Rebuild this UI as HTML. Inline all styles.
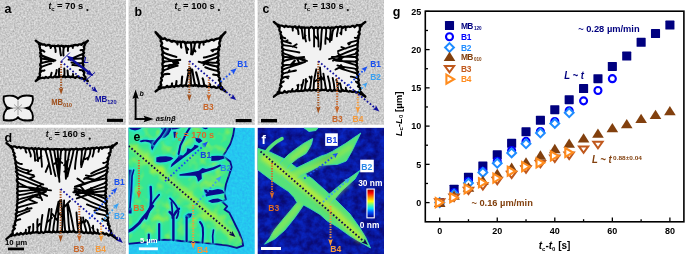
<!DOCTYPE html><html><head><meta charset="utf-8"><style>html,body{margin:0;padding:0;background:#fff;width:685px;height:254px;overflow:hidden}svg{display:block;will-change:transform}</style></head><body><svg width="685" height="254" viewBox="0 0 685 254" font-family='"Liberation Sans", sans-serif'>
<rect width="685" height="254" fill="#fff"/>
<defs><clipPath id="ca"><rect x="0" y="0" width="126" height="124.8"/></clipPath><clipPath id="cb"><rect x="128.6" y="0" width="126.2" height="124.8"/></clipPath><clipPath id="cc"><rect x="257.6" y="0" width="126.4" height="124.8"/></clipPath><clipPath id="cd"><rect x="0" y="127.8" width="126" height="126.2"/></clipPath><clipPath id="ce"><rect x="128.6" y="127.8" width="126.2" height="126.2"/></clipPath><clipPath id="cf"><rect x="257.6" y="127.8" width="126.4" height="126.2"/></clipPath><filter id="gn" x="0" y="0" width="100%" height="100%" color-interpolation-filters="sRGB"><feTurbulence type="fractalNoise" baseFrequency="0.55" numOctaves="2" seed="9"/><feColorMatrix type="matrix" values="0.32 0 0 0 0.635  0.32 0 0 0 0.635  0.32 0 0 0 0.635  0 0 0 0 1"/></filter><filter id="nz" x="0" y="0" width="100%" height="100%" color-interpolation-filters="sRGB"><feTurbulence type="fractalNoise" baseFrequency="0.7" numOctaves="2" seed="4"/><feColorMatrix type="matrix" values="1.6 0 0 0 -0.3  1.6 0 0 0 -0.3  1.6 0 0 0 -0.3  0 0 0 0 1"/></filter></defs>
<g clip-path="url(#ca)"><rect x="0" y="0" width="126" height="124.8" filter="url(#gn)"/>
<path d="M35.7 40.6 L38.5 43.0 L39.8 43.2 L41.0 43.7 L42.2 44.7 L43.4 44.3 L44.6 44.5 L45.9 45.8 L47.1 45.3 L48.3 44.9 L49.5 45.2 L50.8 46.7 L52.0 45.8 L53.2 45.9 L54.4 45.9 L55.7 46.1 L56.9 46.2 L58.1 45.4 L59.3 46.2 L60.6 46.0 L61.8 45.7 L63.0 46.5 L64.2 47.2 L65.5 45.9 L66.7 46.2 L67.9 46.6 L69.2 46.4 L70.4 46.0 L71.6 45.6 L72.8 46.4 L74.0 45.1 L75.3 45.0 L76.5 45.2 L77.7 45.5 L78.9 44.4 L80.2 44.3 L81.4 44.9 L82.6 43.6 L83.8 42.7 L85.1 42.6 L87.9 40.6 L85.7 43.0 L85.0 44.3 L84.6 45.5 L83.7 46.7 L84.3 47.9 L84.2 49.2 L83.2 50.4 L83.3 51.6 L84.2 52.8 L82.6 54.1 L82.9 55.3 L83.8 56.5 L82.9 57.7 L82.4 59.0 L82.9 60.2 L82.9 61.4 L82.7 62.6 L82.8 63.9 L83.6 65.1 L83.0 66.3 L82.9 67.5 L84.2 68.8 L83.7 70.0 L83.1 71.2 L84.3 72.4 L84.0 73.7 L83.7 74.9 L84.6 76.1 L85.5 77.3 L85.1 78.6 L87.9 81.0 L85.1 79.4 L83.8 79.3 L82.6 78.2 L81.4 77.8 L80.2 78.1 L79.0 77.5 L77.7 76.5 L76.5 76.7 L75.3 77.9 L74.0 77.3 L72.8 76.8 L71.6 76.6 L70.4 77.3 L69.2 76.5 L67.9 76.6 L66.7 76.8 L65.5 77.3 L64.2 75.6 L63.0 76.6 L61.8 77.2 L60.6 76.9 L59.3 76.3 L58.1 77.0 L56.9 77.2 L55.7 76.8 L54.4 76.4 L53.2 77.3 L52.0 77.4 L50.8 76.7 L49.5 77.0 L48.3 77.8 L47.1 77.6 L45.9 77.0 L44.6 78.0 L43.4 77.9 L42.2 77.7 L41.0 78.2 L39.8 78.4 L38.5 79.1 L35.7 81.0 L38.1 78.6 L38.2 77.3 L39.8 76.1 L40.1 74.9 L39.6 73.7 L40.2 72.4 L41.2 71.2 L40.3 70.0 L40.1 68.8 L41.1 67.5 L41.0 66.3 L40.1 65.1 L40.4 63.9 L41.5 62.6 L41.1 61.4 L41.1 60.2 L41.0 59.0 L41.3 57.7 L40.2 56.5 L40.8 55.3 L41.2 54.1 L39.9 52.8 L40.7 51.6 L41.2 50.4 L40.1 49.2 L40.0 47.9 L39.5 46.7 L39.9 45.5 L39.0 44.3 L38.8 43.0Z" fill="#f2f2f2" stroke="#000" stroke-width="2.3" stroke-linejoin="round"/><path d="M50.5 45.5C51.5 46.3 51.3 47.2 50.6 48.0M54.5 45.8C54.8 47.9 56.2 49.9 55.6 52.1M59.4 46.0C60.5 49.1 60.0 52.2 61.0 55.4M63.5 46.0C64.0 49.2 62.7 52.3 63.5 55.5M68.1 45.9C68.7 47.5 67.4 49.2 68.0 50.9M73.0 45.5C73.4 46.3 72.1 47.1 72.8 47.9M83.8 49.9C82.7 50.2 81.6 50.0 80.5 50.3M83.4 54.0C78.5 55.3 73.6 58.1 68.6 59.6M83.2 58.4C78.8 58.3 74.3 58.5 69.8 59.5M83.2 63.2C79.4 63.1 75.5 63.5 71.5 62.6M83.4 67.3C79.8 66.0 76.1 64.9 72.4 65.1M83.8 71.1C82.4 70.1 81.1 70.1 79.7 70.1M73.0 77.1C72.5 76.1 73.9 75.1 72.9 74.0M68.3 76.8C67.7 74.7 67.8 72.6 67.5 70.4M63.9 76.7C65.0 74.0 64.5 71.3 64.3 68.6M59.3 76.7C58.5 74.1 59.0 71.5 59.2 68.8M55.2 76.8C55.4 74.5 56.8 72.3 56.7 69.9M50.8 77.1C50.3 75.7 51.5 74.2 51.6 72.8M40.1 71.2C41.6 70.5 43.0 71.2 44.5 70.4M40.6 67.2C44.1 66.0 47.6 64.3 51.3 63.5M40.8 63.3C44.9 62.0 49.1 61.4 53.4 60.5M40.8 58.5C45.0 58.9 49.3 59.5 53.6 61.3M40.6 55.0C45.5 57.5 50.4 58.7 55.4 60.5M40.1 50.1C41.5 50.5 43.0 50.4 44.5 51.7" fill="none" stroke="#000" stroke-width="2.0" stroke-linecap="round"/>
<path d="M3.8 96.5 Q9 95 13.5 96 Q16.5 96.8 18 98.8 Q19.5 96.8 22.5 96 Q27 95 32.6 96.2 Q33.5 100 32 103.5 Q30.2 106 29.6 108 Q30.2 110 32 112.5 Q33.5 116 32.6 120 Q27 121 22.5 120 Q19.5 119.2 18 117.3 Q16.5 119.2 13.5 120 Q9 121 3.8 120 Q3 116 4.5 112.5 Q6.3 110 6.8 108 Q6.3 106 4.5 103.5 Q3 100 3.8 96.5Z" fill="#f0f0f0" stroke="#000" stroke-width="1.9"/>
<path d="M6.8 106.8 L11 108.2 L6.8 109.4Z M29.6 106.8 L25.5 108 L29.6 109.4Z" fill="#000" stroke="#000" stroke-width="1.4"/><path d="M14 104.5 L22 111.5 M22 104.5 L14 111.5 M18 101 L18 115 M10 108 L26 108" stroke="#666" stroke-width="1" opacity="0.6"/>
</g>
<g clip-path="url(#cb)"><rect x="128.6" y="0" width="126.2" height="124.8" filter="url(#gn)"/>
<path d="M155.6 32.2 L158.7 36.3 L159.9 36.3 L161.1 37.5 L162.3 39.0 L163.5 38.8 L164.7 38.3 L165.9 39.2 L167.1 40.5 L168.3 39.9 L169.5 40.2 L170.7 41.2 L171.9 41.7 L173.1 40.8 L174.3 41.3 L175.5 41.4 L176.7 42.5 L177.9 41.8 L179.1 42.0 L180.3 41.8 L181.5 42.4 L182.7 41.6 L183.9 41.9 L185.1 43.2 L186.3 43.1 L187.5 42.2 L188.7 42.6 L189.9 42.5 L191.1 43.0 L192.3 42.5 L193.5 41.9 L194.7 43.3 L195.9 42.3 L197.1 42.0 L198.3 41.9 L199.5 42.8 L200.7 42.3 L201.9 41.9 L203.1 42.0 L204.3 41.9 L205.5 41.9 L206.7 40.6 L207.9 41.2 L209.1 41.1 L210.3 40.3 L211.5 39.7 L212.7 39.7 L213.9 40.4 L215.1 39.3 L216.3 39.0 L217.5 38.6 L218.7 38.6 L219.9 37.9 L221.1 36.1 L222.3 35.6 L225.4 32.2 L222.5 35.0 L221.8 36.2 L221.4 37.5 L220.3 38.7 L220.4 39.9 L220.1 41.1 L219.4 42.3 L219.3 43.5 L219.6 44.8 L219.9 46.0 L218.6 47.2 L218.1 48.4 L219.2 49.6 L218.5 50.8 L218.2 52.1 L218.1 53.3 L218.4 54.5 L218.7 55.7 L217.3 56.9 L217.9 58.1 L218.3 59.4 L218.7 60.6 L217.2 61.8 L218.4 63.0 L218.8 64.2 L218.4 65.5 L217.2 66.7 L218.1 67.9 L218.6 69.1 L217.9 70.3 L218.1 71.5 L219.2 72.8 L218.7 74.0 L218.1 75.2 L218.4 76.4 L219.3 77.6 L220.1 78.8 L218.9 80.1 L220.0 81.3 L220.5 82.5 L220.2 83.7 L220.3 84.9 L220.6 86.1 L222.1 87.4 L222.4 88.6 L225.4 91.4 L222.3 89.0 L221.1 89.2 L219.9 87.6 L218.7 86.9 L217.5 87.6 L216.3 87.9 L215.1 87.4 L213.9 86.5 L212.7 87.1 L211.5 87.3 L210.3 86.6 L209.1 86.1 L207.9 86.7 L206.7 86.7 L205.5 85.6 L204.3 85.8 L203.1 86.0 L201.9 86.3 L200.7 85.9 L199.5 85.7 L198.3 86.4 L197.1 85.5 L195.9 85.1 L194.7 85.0 L193.5 85.8 L192.3 85.5 L191.1 85.2 L189.9 84.8 L188.7 85.7 L187.5 86.3 L186.3 85.4 L185.1 85.3 L183.9 85.6 L182.7 86.4 L181.5 85.4 L180.3 85.3 L179.1 86.1 L177.9 86.3 L176.7 85.6 L175.5 85.7 L174.3 87.0 L173.1 86.3 L171.9 85.5 L170.7 86.7 L169.5 86.7 L168.3 87.1 L167.1 85.9 L165.9 87.1 L164.7 87.5 L163.5 87.5 L162.3 87.4 L161.1 88.0 L159.9 88.7 L158.7 89.0 L155.6 91.4 L159.2 88.6 L158.7 87.4 L160.1 86.1 L161.3 84.9 L160.8 83.7 L160.6 82.5 L161.2 81.3 L161.9 80.1 L161.2 78.8 L161.3 77.6 L162.8 76.4 L162.6 75.2 L161.9 74.0 L161.7 72.8 L163.1 71.5 L163.3 70.3 L162.5 69.1 L163.0 67.9 L163.3 66.7 L162.7 65.5 L162.3 64.2 L162.7 63.0 L164.1 61.8 L163.0 60.6 L162.7 59.4 L162.9 58.1 L163.3 56.9 L162.7 55.7 L161.9 54.5 L163.1 53.3 L163.3 52.1 L162.6 50.8 L162.0 49.6 L162.2 48.4 L162.7 47.2 L161.0 46.0 L161.4 44.8 L162.1 43.5 L161.7 42.3 L160.6 41.1 L160.7 39.9 L161.1 38.7 L159.8 37.5 L158.7 36.2 L158.5 35.0Z" fill="#f2f2f2" stroke="#000" stroke-width="2.4" stroke-linejoin="round"/><path d="M177.1 41.6C177.3 42.6 177.8 43.5 177.5 44.5M180.7 42.0C181.2 43.9 180.5 45.7 181.4 47.6M185.3 42.3C185.6 45.8 186.6 49.4 187.0 53.0M186.0 46.8C186.7 47.7 187.5 48.6 188.2 49.5M190.9 42.5C191.3 46.3 191.9 50.2 191.1 54.2M195.1 42.4C194.4 46.3 194.1 50.3 192.4 54.4M193.6 49.0C194.2 49.8 194.8 50.6 195.4 51.4M200.0 42.0C200.2 43.9 198.6 45.8 199.2 47.7M204.3 41.6C203.2 42.6 203.4 43.6 203.6 44.6M218.9 48.3C216.5 49.7 214.0 49.2 211.4 50.4M213.9 49.7C213.5 50.2 213.1 50.8 212.7 51.3M218.5 53.0C213.7 54.6 208.8 56.9 203.9 57.5M218.3 57.2C212.8 58.6 207.2 60.8 201.6 62.6M207.4 60.7C206.2 62.1 204.9 63.5 203.6 64.9M218.2 62.5C213.0 63.5 207.7 61.7 202.3 62.5M218.3 66.7C211.8 66.0 205.3 63.4 198.7 61.7M218.6 71.4C214.2 70.1 209.8 69.4 205.3 67.3M219.0 75.4C217.1 74.6 215.2 75.3 213.2 74.6M210.0 86.5C209.5 85.7 210.9 84.9 209.8 84.1M204.6 86.1C203.6 83.6 203.8 81.0 202.6 78.4M199.3 85.8C198.9 81.3 197.4 76.9 196.1 72.3M195.4 85.7C193.7 80.4 193.2 75.1 192.2 69.6M190.8 85.6C191.1 79.9 190.3 74.2 190.3 68.3M190.4 72.7C189.6 71.9 188.7 71.0 187.8 70.2M185.9 85.7C186.6 80.2 188.6 74.7 189.0 69.0M188.1 73.9C189.5 72.7 190.8 71.6 192.2 70.4M181.3 85.8C182.0 82.8 181.6 79.7 182.2 76.6M176.1 86.1C175.6 84.4 176.7 82.7 176.5 81.0M171.9 86.5C172.4 85.4 171.4 84.4 172.1 83.4M162.1 75.1C164.5 74.2 166.9 73.4 169.4 74.0M162.5 70.8C167.5 69.4 172.4 66.5 177.6 65.8M167.9 69.0C168.7 67.6 169.4 66.3 170.1 64.9M162.7 66.5C167.8 66.0 173.0 64.9 178.3 63.2M169.1 65.1C170.5 65.7 171.8 66.3 173.2 66.9M162.8 61.9C168.5 61.0 174.3 59.9 180.2 59.9M162.7 56.8C167.8 58.8 172.8 61.4 178.0 62.3M171.7 60.0C172.5 61.0 173.2 62.0 174.0 63.0M162.4 52.1C167.0 54.6 171.7 55.5 176.4 56.9M162.0 47.8C164.0 48.0 165.9 48.6 167.9 49.3" fill="none" stroke="#000" stroke-width="2.1" stroke-linecap="round"/>
</g>
<g clip-path="url(#cc)"><rect x="257.6" y="0" width="126.4" height="124.8" filter="url(#gn)"/>
<path d="M273.8 21.9 L277.3 24.9 L278.5 25.0 L279.7 25.8 L280.9 25.6 L282.1 25.7 L283.4 26.2 L284.6 27.0 L285.8 25.7 L287.0 26.4 L288.2 26.8 L289.4 26.5 L290.6 26.6 L291.8 26.8 L293.0 27.5 L294.2 26.7 L295.4 26.3 L296.6 28.3 L297.9 27.7 L299.1 26.4 L300.3 27.7 L301.5 28.1 L302.7 27.3 L303.9 27.5 L305.1 28.0 L306.3 27.7 L307.5 27.6 L308.7 28.0 L309.9 27.9 L311.1 26.9 L312.4 27.4 L313.6 28.6 L314.8 27.9 L316.0 27.2 L317.2 27.9 L318.4 28.4 L319.6 27.2 L320.8 27.5 L322.0 28.2 L323.2 27.8 L324.4 27.3 L325.6 28.3 L326.9 28.0 L328.1 27.2 L329.3 28.2 L330.5 28.5 L331.7 27.4 L332.9 27.6 L334.1 28.5 L335.3 27.2 L336.5 26.8 L337.7 27.3 L338.9 27.1 L340.1 26.4 L341.4 26.9 L342.6 28.0 L343.8 27.1 L345.0 26.5 L346.2 27.4 L347.4 26.7 L348.6 26.7 L349.8 27.0 L351.0 26.6 L352.2 25.9 L353.4 25.8 L354.6 27.2 L355.9 26.0 L357.1 24.9 L358.3 25.6 L359.5 25.2 L360.7 24.9 L361.9 24.5 L365.4 21.9 L361.8 25.0 L361.2 26.2 L359.8 27.4 L359.9 28.6 L359.9 29.8 L359.5 31.0 L358.5 32.2 L359.7 33.4 L359.4 34.6 L358.2 35.8 L358.6 37.0 L358.5 38.2 L358.0 39.4 L357.4 40.6 L358.1 41.9 L357.8 43.1 L357.0 44.3 L357.7 45.5 L357.6 46.7 L357.5 47.9 L356.1 49.1 L357.9 50.3 L357.6 51.5 L356.3 52.7 L357.4 53.9 L357.7 55.1 L356.5 56.3 L356.1 57.5 L357.2 58.7 L357.7 59.9 L356.0 61.1 L356.5 62.3 L357.2 63.5 L356.5 64.7 L356.4 65.9 L357.5 67.1 L357.4 68.3 L356.2 69.5 L356.8 70.7 L358.1 71.9 L357.3 73.1 L357.1 74.3 L358.0 75.5 L358.2 76.7 L357.6 78.0 L358.5 79.2 L358.9 80.4 L358.1 81.6 L357.9 82.8 L358.8 84.0 L359.6 85.2 L358.0 86.4 L359.7 87.6 L360.6 88.8 L359.7 90.0 L360.1 91.2 L361.3 92.4 L362.2 93.6 L365.4 96.7 L361.9 94.3 L360.7 94.1 L359.5 92.5 L358.3 92.2 L357.1 92.5 L355.9 92.3 L354.6 91.2 L353.4 91.8 L352.2 91.9 L351.0 91.4 L349.8 91.0 L348.6 91.7 L347.4 91.2 L346.2 90.3 L345.0 90.9 L343.8 90.8 L342.6 89.8 L341.4 91.3 L340.1 91.5 L338.9 90.6 L337.7 90.6 L336.5 90.7 L335.3 90.3 L334.1 89.9 L332.9 90.6 L331.7 91.1 L330.5 89.7 L329.3 89.9 L328.1 90.8 L326.9 90.6 L325.6 89.1 L324.4 90.1 L323.2 89.9 L322.0 89.6 L320.8 90.4 L319.6 90.5 L318.4 89.6 L317.2 89.7 L316.0 90.6 L314.8 89.9 L313.6 89.8 L312.4 90.3 L311.1 90.6 L309.9 89.8 L308.7 89.5 L307.5 90.6 L306.3 90.3 L305.1 89.2 L303.9 90.7 L302.7 91.0 L301.5 90.6 L300.3 90.9 L299.1 91.1 L297.9 91.0 L296.6 90.0 L295.4 91.1 L294.2 91.4 L293.0 91.1 L291.8 90.7 L290.6 91.8 L289.4 91.3 L288.2 91.4 L287.0 92.6 L285.8 92.2 L284.6 91.0 L283.4 92.5 L282.1 93.0 L280.9 92.7 L279.7 92.9 L278.5 93.7 L277.3 94.0 L273.8 96.7 L277.6 93.6 L277.6 92.4 L279.2 91.2 L279.4 90.0 L279.6 88.8 L280.0 87.6 L281.6 86.4 L280.2 85.2 L280.5 84.0 L281.2 82.8 L281.3 81.6 L281.1 80.4 L281.5 79.2 L282.8 78.0 L281.9 76.7 L281.8 75.5 L282.6 74.3 L283.0 73.1 L281.9 71.9 L282.2 70.7 L282.8 69.5 L282.0 68.3 L282.0 67.1 L283.6 65.9 L283.0 64.7 L282.3 63.5 L282.6 62.3 L283.7 61.1 L282.8 59.9 L283.2 58.7 L283.2 57.5 L283.5 56.3 L282.4 55.1 L282.5 53.9 L283.3 52.7 L282.2 51.5 L282.7 50.3 L283.4 49.1 L282.1 47.9 L282.1 46.7 L282.7 45.5 L282.5 44.3 L282.1 43.1 L281.7 41.9 L282.2 40.6 L282.1 39.4 L281.0 38.2 L281.1 37.0 L281.6 35.8 L280.6 34.6 L280.4 33.4 L281.0 32.2 L279.8 31.0 L279.3 29.8 L279.5 28.6 L279.7 27.4 L277.9 26.2 L277.7 25.0Z" fill="#f2f2f2" stroke="#000" stroke-width="2.3" stroke-linejoin="round"/><path d="M292.5 26.8C292.5 28.0 292.7 29.3 292.8 30.6M297.2 27.1C297.9 29.4 298.5 31.7 298.6 34.1M301.4 27.3C302.2 31.0 302.5 34.8 303.1 38.6M304.8 27.5C304.8 32.1 304.3 36.7 306.0 41.4M305.5 35.7C305.1 36.5 304.6 37.4 304.2 38.3M308.8 27.6C309.3 31.9 308.5 36.2 309.6 40.5M313.9 27.7C314.1 34.0 314.2 40.2 314.1 46.6M314.0 35.5C315.2 36.7 316.4 37.9 317.7 39.1M317.8 27.8C317.1 34.0 319.0 40.2 318.5 46.5M322.2 27.8C320.7 35.0 321.8 42.2 320.2 49.6M326.1 27.7C326.9 33.1 324.9 38.4 325.4 43.9M325.7 37.0C326.7 37.8 327.6 38.7 328.6 39.6M330.5 27.6C331.2 32.3 329.5 37.1 329.9 41.9M334.0 27.5C332.0 31.7 332.2 35.8 331.5 40.1M337.9 27.3C338.8 30.3 336.3 33.3 336.9 36.3M341.8 27.1C341.6 29.5 341.4 31.9 341.2 34.3M341.4 31.7C341.1 32.2 340.7 32.7 340.3 33.3M346.3 26.8C344.8 27.9 345.6 29.0 345.8 30.2M358.6 36.7C357.3 37.7 356.0 38.4 354.8 37.7M358.1 40.4C354.8 41.3 351.5 41.4 348.1 43.4M350.7 42.6C350.1 43.2 349.5 43.9 348.9 44.6M357.7 44.3C351.2 46.4 344.7 48.4 338.0 51.2M345.9 48.5C344.4 48.0 342.9 47.6 341.4 47.1M357.3 48.5C348.0 51.2 338.6 56.2 329.0 59.1M357.1 53.3C349.2 55.6 341.2 57.4 333.0 60.7M357.0 57.0C348.7 57.0 340.4 56.1 331.9 57.0M343.4 57.0C341.7 58.2 340.0 59.4 338.3 60.6M357.0 61.8C350.0 60.9 342.9 61.5 335.7 60.5M357.1 65.6C348.8 62.5 340.4 60.8 331.9 58.1M342.0 61.1C340.7 58.4 339.5 55.7 338.1 52.9M357.3 69.4C350.7 67.2 344.1 68.0 337.4 65.4M341.8 66.3C339.7 67.4 337.6 68.4 335.5 69.5M357.6 73.5C351.6 71.9 345.7 70.6 339.6 67.9M344.1 69.3C343.1 67.9 342.1 66.5 341.0 65.1M358.1 78.3C355.7 78.7 353.3 76.3 350.8 76.6M358.7 82.6C357.7 83.2 356.8 82.7 355.9 81.6M346.6 91.3C346.6 90.1 345.6 89.0 345.8 87.8M341.8 90.9C340.9 88.4 341.2 85.9 340.0 83.3M338.5 90.7C336.9 87.1 338.3 83.6 336.3 79.9M337.4 85.3C337.8 84.7 338.3 84.0 338.7 83.3M334.6 90.5C334.3 86.3 333.8 82.1 332.7 77.9M330.5 90.3C330.2 85.7 329.4 81.1 327.9 76.3M326.3 90.2C324.9 84.7 324.4 79.2 323.4 73.6M324.6 80.7C323.4 79.4 322.2 78.2 321.0 77.0M321.3 90.1C322.1 82.6 320.3 75.2 320.0 67.4M317.8 90.1C319.1 84.3 317.2 78.4 318.1 72.4M318.0 81.5C319.1 80.0 320.3 78.5 321.4 76.9M313.5 90.2C313.5 83.3 314.4 76.4 316.3 69.3M314.7 81.6C316.6 80.2 318.5 78.9 320.4 77.5M309.2 90.3C311.2 85.8 310.7 81.2 311.7 76.5M311.2 79.3C310.7 78.5 310.1 77.6 309.6 76.7M305.2 90.4C304.4 86.6 306.7 82.8 305.9 78.9M305.6 83.3C306.1 82.6 306.6 81.8 307.2 81.1M301.2 90.6C301.7 87.1 303.0 83.6 303.6 79.9M302.0 86.9C301.7 86.2 301.5 85.5 301.3 84.8M297.2 90.9C298.6 88.9 297.4 86.9 298.5 84.8M298.2 86.5C297.9 86.1 297.6 85.6 297.3 85.2M292.3 91.3C292.7 90.5 291.6 89.7 292.5 88.9M281.2 82.0C282.0 82.8 282.9 82.0 283.8 81.4M281.8 78.0C284.0 77.2 286.3 76.7 288.7 76.5M286.0 77.1C286.7 77.5 287.3 77.8 288.0 78.2M282.2 74.0C286.8 71.9 291.3 71.6 296.0 70.5M287.8 72.6C288.3 71.8 288.9 71.1 289.5 70.3M282.6 69.8C290.0 66.3 297.5 65.2 305.2 61.8M290.5 67.0C292.0 64.9 293.4 62.8 294.9 60.6M282.8 65.3C289.2 64.7 295.5 64.6 302.1 62.3M291.3 64.0C292.4 62.9 293.4 61.8 294.5 60.7M282.9 61.2C289.9 58.7 296.9 57.8 304.2 57.0M298.1 58.2C300.4 59.2 302.6 60.2 304.9 61.2M282.9 56.7C290.1 57.4 297.3 58.3 304.7 59.1M282.8 53.4C290.8 55.6 298.8 58.9 307.0 60.9M296.2 57.5C297.1 59.0 298.0 60.5 298.9 62.0M282.6 49.1C288.1 50.6 293.7 51.2 299.4 52.5M282.2 44.7C286.9 46.4 291.6 45.3 296.4 47.5M292.7 46.8C294.0 45.9 295.4 45.1 296.7 44.2M281.8 40.7C284.8 40.9 287.8 42.2 290.9 43.4M285.1 41.7C285.9 41.2 286.8 40.7 287.6 40.2M281.2 36.6C282.5 36.7 283.9 38.4 285.3 38.3" fill="none" stroke="#000" stroke-width="1.9" stroke-linecap="round"/>
</g>
<g clip-path="url(#cd)"><rect x="0" y="127.8" width="126" height="126.2" filter="url(#gn)"/>
<path d="M6.4 143.0 L9.9 145.8 L11.1 146.1 L12.3 147.2 L13.5 146.4 L14.7 146.4 L15.9 146.9 L17.1 147.8 L18.3 147.2 L19.5 147.0 L20.7 148.3 L22.0 147.4 L23.2 147.3 L24.4 147.9 L25.6 148.5 L26.8 148.1 L28.0 148.5 L29.2 148.9 L30.4 148.5 L31.6 148.0 L32.8 149.0 L34.0 149.2 L35.2 148.0 L36.4 149.3 L37.6 149.0 L38.8 148.2 L40.0 149.0 L41.2 149.5 L42.4 148.7 L43.6 149.1 L44.8 149.3 L46.0 149.8 L47.2 148.4 L48.5 149.0 L49.7 149.5 L50.9 149.4 L52.1 149.2 L53.3 149.8 L54.5 149.2 L55.7 149.2 L56.9 149.1 L58.1 149.4 L59.3 149.2 L60.5 149.6 L61.7 150.1 L62.9 149.3 L64.1 148.8 L65.3 149.8 L66.5 149.6 L67.7 149.4 L68.9 149.7 L70.1 150.0 L71.3 148.8 L72.5 149.1 L73.7 149.7 L75.0 149.1 L76.2 148.4 L77.4 149.2 L78.6 149.6 L79.8 149.0 L81.0 149.4 L82.2 150.2 L83.4 148.4 L84.6 148.2 L85.8 149.1 L87.0 149.3 L88.2 148.1 L89.4 149.1 L90.6 148.7 L91.8 148.0 L93.0 148.0 L94.2 149.0 L95.4 148.2 L96.6 147.4 L97.8 148.0 L99.0 148.5 L100.2 147.5 L101.5 147.5 L102.7 148.2 L103.9 147.3 L105.1 147.1 L106.3 147.4 L107.5 147.3 L108.7 146.8 L109.9 146.7 L111.1 147.1 L112.3 145.4 L113.5 145.8 L117.0 143.0 L112.9 146.2 L112.6 147.4 L110.5 148.6 L110.7 149.8 L110.6 151.1 L110.5 152.3 L108.8 153.5 L110.0 154.7 L109.4 155.9 L108.5 157.1 L107.9 158.3 L108.5 159.5 L107.9 160.7 L107.1 161.9 L107.7 163.2 L107.8 164.4 L106.4 165.6 L107.2 166.8 L107.9 168.0 L107.2 169.2 L106.3 170.4 L107.5 171.6 L107.0 172.8 L105.9 174.1 L106.3 175.3 L106.2 176.5 L106.4 177.7 L106.0 178.9 L106.7 180.1 L106.4 181.3 L105.4 182.5 L106.4 183.7 L106.7 184.9 L105.8 186.2 L104.9 187.4 L106.6 188.6 L105.9 189.8 L104.8 191.0 L105.8 192.2 L105.9 193.4 L104.9 194.6 L105.6 195.8 L106.3 197.1 L105.5 198.3 L105.6 199.5 L106.6 200.7 L106.7 201.9 L105.7 203.1 L105.9 204.3 L106.6 205.5 L106.2 206.7 L106.2 207.9 L107.2 209.2 L107.4 210.4 L106.2 211.6 L106.8 212.8 L107.7 214.0 L106.9 215.2 L106.5 216.4 L108.3 217.6 L107.8 218.8 L107.0 220.1 L108.1 221.3 L108.3 222.5 L108.4 223.7 L108.0 224.9 L109.8 226.1 L109.2 227.3 L109.2 228.5 L109.9 229.7 L111.1 230.9 L110.9 232.2 L111.4 233.4 L112.0 234.6 L113.4 235.8 L117.0 239.0 L113.5 236.5 L112.3 235.8 L111.1 235.1 L109.9 234.4 L108.7 235.6 L107.5 234.4 L106.3 233.4 L105.1 234.4 L103.9 233.7 L102.7 232.6 L101.5 233.7 L100.2 234.0 L99.0 233.6 L97.8 232.9 L96.6 233.4 L95.4 232.9 L94.2 231.7 L93.0 233.5 L91.8 233.3 L90.6 231.9 L89.4 232.7 L88.2 233.1 L87.0 232.5 L85.8 231.8 L84.6 233.0 L83.4 232.9 L82.2 231.6 L81.0 231.9 L79.8 232.4 L78.6 231.8 L77.4 232.2 L76.2 232.4 L75.0 231.9 L73.7 230.7 L72.5 231.7 L71.3 231.9 L70.1 231.4 L68.9 231.5 L67.7 232.4 L66.5 231.7 L65.3 231.1 L64.1 232.1 L62.9 232.2 L61.7 230.4 L60.5 232.0 L59.3 232.3 L58.1 231.8 L56.9 231.4 L55.7 232.3 L54.5 232.0 L53.3 231.0 L52.1 232.4 L50.9 232.3 L49.7 231.6 L48.5 231.9 L47.2 232.0 L46.0 231.7 L44.8 231.9 L43.6 232.9 L42.4 232.5 L41.2 231.4 L40.0 232.8 L38.8 233.0 L37.6 232.0 L36.4 232.1 L35.2 232.4 L34.0 232.6 L32.8 231.7 L31.6 232.9 L30.4 233.5 L29.2 231.9 L28.0 233.3 L26.8 233.8 L25.6 232.7 L24.4 233.2 L23.2 234.3 L22.0 233.9 L20.7 232.9 L19.5 234.7 L18.3 234.6 L17.1 233.4 L15.9 234.8 L14.7 235.4 L13.5 235.1 L12.3 235.1 L11.1 236.2 L9.9 236.0 L6.4 239.0 L10.1 235.8 L11.1 234.6 L12.8 233.4 L12.6 232.2 L12.6 230.9 L13.6 229.7 L14.9 228.5 L13.5 227.3 L13.5 226.1 L15.5 224.9 L14.6 223.7 L15.1 222.5 L15.4 221.3 L16.2 220.1 L15.8 218.8 L15.9 217.6 L16.8 216.4 L16.1 215.2 L15.6 214.0 L17.0 212.8 L17.6 211.6 L16.2 210.4 L16.9 209.2 L17.2 207.9 L17.4 206.7 L16.7 205.5 L17.0 204.3 L18.1 203.1 L17.3 201.9 L17.4 200.7 L17.9 199.5 L17.7 198.3 L17.3 197.1 L17.7 195.8 L18.2 194.6 L17.0 193.4 L17.3 192.2 L18.3 191.0 L17.4 189.8 L17.1 188.6 L18.0 187.4 L17.6 186.2 L17.6 184.9 L17.9 183.7 L18.3 182.5 L17.0 181.3 L16.7 180.1 L18.0 178.9 L17.9 177.7 L17.2 176.5 L16.9 175.3 L18.1 174.1 L17.0 172.8 L15.9 171.6 L17.4 170.4 L17.0 169.2 L15.9 168.0 L16.5 166.8 L16.3 165.6 L15.9 164.4 L15.3 163.2 L16.3 161.9 L15.4 160.7 L15.0 159.5 L14.6 158.3 L15.4 157.1 L14.3 155.9 L13.7 154.7 L14.6 153.5 L13.5 152.3 L13.1 151.1 L13.1 149.8 L12.1 148.6 L11.2 147.4 L10.1 146.2Z" fill="#f2f2f2" stroke="#000" stroke-width="2.3" stroke-linejoin="round"/><path d="M25.2 148.0C25.8 149.5 25.0 151.0 26.4 152.5M28.9 148.3C28.4 151.0 31.5 153.7 30.7 156.5M33.2 148.5C34.9 152.6 35.4 156.6 35.1 160.8M36.8 148.7C36.3 152.8 37.7 156.9 38.1 161.1M41.2 148.9C40.1 154.8 42.1 160.7 41.9 166.8M41.5 156.2C40.0 157.5 38.5 158.8 37.0 160.2M45.2 149.0C47.4 157.3 50.0 165.6 51.1 174.1M48.8 164.3C47.8 166.8 46.7 169.4 45.7 171.9M49.7 149.2C51.9 158.0 52.8 166.9 55.5 176.0M54.0 149.2C55.4 158.4 57.2 167.5 58.5 176.9M55.5 158.3C57.7 159.9 60.0 161.4 62.3 163.0M57.5 149.3C58.4 160.0 58.6 170.7 59.4 181.7M61.4 149.3C59.6 158.8 60.2 168.3 58.9 178.1M60.6 158.3C58.6 160.1 56.6 162.0 54.5 163.8M65.8 149.3C64.6 159.0 65.4 168.6 65.9 178.6M69.8 149.2C67.7 159.0 66.4 168.7 65.9 178.7M68.5 159.4C67.1 161.3 65.6 163.3 64.1 165.3M73.7 149.2C72.7 158.2 69.1 167.3 67.4 176.6M69.5 167.7C67.8 169.0 66.1 170.3 64.4 171.6M77.5 149.1C76.6 155.6 75.2 162.2 75.0 168.9M81.6 148.9C82.6 154.2 80.7 159.4 81.0 164.9M85.8 148.8C85.3 154.8 83.3 160.9 81.2 167.1M90.7 148.5C90.7 152.2 89.6 155.9 87.8 159.6M88.4 157.3C87.3 157.9 86.3 158.5 85.2 159.1M94.2 148.3C94.0 151.0 93.7 153.7 92.6 156.5M98.9 147.9C99.5 149.2 98.7 150.4 98.5 151.8M102.1 147.6C101.3 148.0 102.9 148.5 101.9 148.9M108.7 158.1C108.3 157.1 107.8 159.7 107.4 158.5M108.1 161.6C106.5 161.4 104.9 163.6 103.2 162.8M107.4 166.2C102.0 168.8 96.6 170.4 91.1 173.6M106.9 169.8C99.4 172.9 91.8 175.8 84.0 179.1M91.1 176.3C89.4 176.0 87.6 175.7 85.9 175.4M106.5 174.2C96.6 179.4 86.6 183.9 76.4 186.9M94.0 179.5C91.0 179.1 88.0 178.7 84.9 178.3M106.2 178.2C95.9 180.2 85.6 182.4 74.9 186.7M85.1 183.9C82.6 182.1 80.0 180.4 77.4 178.6M106.0 182.6C97.4 185.9 88.9 189.3 80.1 193.1M105.8 186.9C95.9 189.7 86.0 191.2 75.8 194.7M82.3 193.0C79.8 192.1 77.2 191.2 74.6 190.3M105.8 191.0C96.8 192.2 87.7 192.6 78.4 192.5M105.9 195.7C95.1 194.9 84.3 192.2 73.3 192.3M86.7 193.7C84.4 191.0 82.2 188.2 79.8 185.3M105.9 198.8C95.6 194.7 85.2 191.0 74.5 188.4M94.3 194.9C93.2 192.6 92.1 190.3 91.0 187.9M106.2 203.5C97.0 198.5 87.9 194.3 78.5 191.4M86.8 195.0C83.5 196.1 80.2 197.3 76.8 198.4M106.5 208.3C96.5 204.7 86.6 200.4 76.3 194.5M106.8 211.3C100.2 209.9 93.7 207.3 86.9 204.4M99.6 208.8C97.9 209.4 96.2 210.1 94.4 210.7M107.4 216.1C103.7 214.1 100.0 214.7 96.2 213.2M108.1 220.5C106.1 221.2 104.2 220.8 102.2 218.8M108.7 224.0C108.3 225.2 108.0 222.4 107.6 223.5M98.3 233.4C97.1 232.1 98.4 230.8 97.5 229.4M93.8 233.0C93.5 230.6 92.8 228.3 93.1 225.8M93.4 228.9C93.0 228.5 92.5 228.1 92.1 227.7M90.2 232.7C90.4 228.8 89.3 225.0 87.3 221.0M86.5 232.5C86.1 227.5 83.1 222.6 83.1 217.5M84.3 223.1C84.9 222.0 85.4 220.9 85.9 219.8M81.6 232.2C80.2 227.3 81.3 222.5 80.8 217.4M81.2 224.1C81.7 223.2 82.2 222.2 82.8 221.3M78.5 232.1C77.2 225.6 76.9 219.2 76.5 212.5M77.8 225.6C78.7 224.5 79.5 223.5 80.4 222.5M74.1 231.9C72.4 222.8 71.1 213.6 67.9 204.1M69.7 231.8C68.0 223.3 68.5 214.7 67.3 205.9M65.3 231.8C64.1 221.5 63.5 211.1 64.1 200.5M64.4 206.9C66.2 204.9 68.1 202.9 70.0 200.9M61.9 231.8C63.1 221.3 62.3 210.8 61.3 200.0M61.6 216.2C60.0 214.3 58.4 212.5 56.7 210.6M57.2 231.8C58.3 221.5 57.6 211.2 59.7 200.6M58.0 221.2C56.2 218.9 54.4 216.5 52.5 214.1M53.0 231.9C53.7 222.0 56.1 212.0 58.5 201.8M48.9 232.0C50.0 224.4 51.3 216.8 51.5 209.0M45.0 232.1C46.5 224.5 48.0 216.9 49.2 209.0M46.7 222.7C48.4 221.1 50.2 219.5 52.0 217.8M41.0 232.3C40.8 226.6 41.5 220.9 42.4 215.0M37.0 232.5C38.2 228.1 36.6 223.8 37.6 219.3M37.2 227.4C38.0 226.2 38.8 225.1 39.7 223.9M32.7 232.7C33.7 229.9 33.2 227.0 33.2 224.0M28.7 233.1C29.8 231.0 28.4 228.9 30.1 226.7M29.6 228.8C29.3 228.3 28.9 227.8 28.5 227.3M25.2 233.4C25.5 232.1 26.0 230.9 25.9 229.6M15.3 220.9C16.9 220.7 18.6 219.4 20.3 219.3M16.0 216.5C20.4 214.8 24.9 212.3 29.6 210.8M16.5 212.4C21.5 212.2 26.5 208.6 31.6 208.3M25.0 210.1C25.8 209.3 26.6 208.6 27.4 207.8M16.9 208.1C23.5 205.5 30.1 204.0 36.9 202.6M17.2 203.7C26.7 200.5 36.2 195.4 46.0 191.6M28.3 199.1C30.5 200.0 32.8 201.0 35.1 202.0M17.4 199.9C26.8 196.7 36.3 195.4 46.0 191.3M32.2 195.5C34.8 196.3 37.4 197.1 40.0 197.9M17.6 195.3C26.9 194.3 36.2 191.4 45.8 189.9M17.6 191.4C27.3 190.9 36.9 188.9 46.9 188.7M34.2 189.9C36.6 188.0 39.0 186.2 41.5 184.3M17.6 186.5C28.6 186.7 39.6 189.3 51.0 190.4M17.4 182.3C27.2 187.9 37.0 191.0 47.1 195.9M38.3 191.9C39.5 194.6 40.8 197.3 42.1 200.1M17.2 178.4C27.1 180.4 36.9 186.5 47.1 188.8M16.9 173.7C25.6 176.7 34.3 181.3 43.3 184.5M28.9 178.6C30.7 177.9 32.5 177.1 34.3 176.3M16.4 169.5C22.1 171.7 27.7 174.2 33.6 175.3M26.7 173.0C28.2 172.1 29.8 171.2 31.4 170.4M16.0 166.0C20.0 168.1 24.0 170.1 28.1 170.3M15.5 162.2C17.6 161.9 19.7 164.6 21.9 164.0" fill="none" stroke="#000" stroke-width="1.9" stroke-linecap="round"/>
</g>
<defs><filter id="bl1" x="-20%" y="-20%" width="140%" height="140%"><feGaussianBlur stdDeviation="0.8"/></filter><filter id="bl3" x="-20%" y="-20%" width="140%" height="140%"><feGaussianBlur stdDeviation="2"/></filter><filter id="sub" x="0" y="0" width="100%" height="100%" color-interpolation-filters="sRGB"><feTurbulence type="fractalNoise" baseFrequency="0.4" numOctaves="2" seed="3"/><feColorMatrix type="matrix" values="0 0 0 0 0.1  0.6 0 0 0 0.5  0 0 0 0 0.95  0 0 0 0 1"/></filter><filter id="fbg" x="0" y="0" width="100%" height="100%" color-interpolation-filters="sRGB"><feTurbulence type="fractalNoise" baseFrequency="0.15" numOctaves="3" seed="11"/><feColorMatrix type="matrix" values="0 0 0 0 0.03  0.5 0 0 0 -0.13  1.3 0 0 0 -0.05  0 0 0 0 1"/></filter><filter id="mot" x="0" y="0" width="100%" height="100%" color-interpolation-filters="sRGB"><feTurbulence type="fractalNoise" baseFrequency="0.09" numOctaves="2" seed="5"/><feColorMatrix type="matrix" values="0 0 0 0 0.62  0 0 0 0 0.94  0 0 0 0 0.28  3.2 0 0 0 -1.55"/></filter><linearGradient id="egr" x1="0" y1="0" x2="1" y2="1"><stop offset="0" stop-color="#30f0c0"/><stop offset="0.5" stop-color="#60e070"/><stop offset="1" stop-color="#50e080"/></linearGradient><linearGradient id="jet" x1="0" y1="0" x2="0" y2="1"><stop offset="0" stop-color="#900000"/><stop offset="0.12" stop-color="#ff0000"/><stop offset="0.3" stop-color="#ffa000"/><stop offset="0.42" stop-color="#ffff00"/><stop offset="0.55" stop-color="#60ff90"/><stop offset="0.68" stop-color="#00e0ff"/><stop offset="0.82" stop-color="#0050ff"/><stop offset="1" stop-color="#00008c"/></linearGradient></defs>
<g clip-path="url(#ce)">
<rect x="128.6" y="127.8" width="126.20000000000002" height="126.2" fill="#2cc4f0"/>
<rect x="128.6" y="127.8" width="126.20000000000002" height="126.2" filter="url(#sub)" opacity="0.3"/>
<clipPath id="ecr"><path d="M127.6 126.8 L234.5 126.8 L233.1 135.6 L230.2 144.2 L225.9 151.4 L223 155.7 L224.5 157.2 L230.2 161.5 L231.7 167.2 L228.8 175.9 L225.9 184.5 L224.5 193.1 L225.9 199.5 L222 201.5 L227.2 206.4 L224.5 209.6 L229.4 212.8 L232.6 219.1 L235.7 225.5 L238.9 231.9 L242.1 240.4 L243.2 245.7 L236.8 247.9 L228.3 245.7 L219.8 244.7 L211.3 243.6 L202.8 242.6 L192 242 L181 241 L169.6 239.6 L160.1 240 L146.9 242 L128 243.8Z"/></clipPath>
<path d="M127.6 126.8 L234.5 126.8 L233.1 135.6 L230.2 144.2 L225.9 151.4 L223 155.7 L224.5 157.2 L230.2 161.5 L231.7 167.2 L228.8 175.9 L225.9 184.5 L224.5 193.1 L225.9 199.5 L222 201.5 L227.2 206.4 L224.5 209.6 L229.4 212.8 L232.6 219.1 L235.7 225.5 L238.9 231.9 L242.1 240.4 L243.2 245.7 L236.8 247.9 L228.3 245.7 L219.8 244.7 L211.3 243.6 L202.8 242.6 L192 242 L181 241 L169.6 239.6 L160.1 240 L146.9 242 L128 243.8Z" fill="#36e694" stroke="#0a0a8c" stroke-width="1.8" stroke-linejoin="round"/>
<rect x="128.6" y="127.8" width="126.20000000000002" height="126.2" filter="url(#mot)" clip-path="url(#ecr)" opacity="0.75"/>
<g filter="url(#bl3)"><path d="M132 146 L236 238" stroke="#c8f030" stroke-width="7" opacity="0.6"/><path d="M150 232 L218 160" stroke="#a8f040" stroke-width="6" opacity="0.35"/><path d="M138 168 L150 150 M140 225 L160 200 M200 186 L214 176 M178 150 L195 138 M215 230 L225 215" stroke="#a0f050" stroke-width="6" opacity="0.4"/><path d="M132 135 L145 132 M165 145 L170 140" stroke="#30f0d0" stroke-width="5" opacity="0.5"/></g>
<g filter="url(#bl1)" opacity="0.8"><path d="M128.6 127.8 L142 127.8 L139 129.6 L135 130.6 L131 129.5Z" fill="#20e8e8" stroke="#20e8e8" stroke-width="3"/><path d="M160.6 127.8 L172 127.8 L170.5 131 L168.5 134.5 L165 137.5 L162 138.3 L163.5 134 L162.5 130.5Z" fill="#20e8e8" stroke="#20e8e8" stroke-width="3"/><path d="M172 127.8 L181.3 127.8 L176 129.2 L172 129.6Z" fill="#20e8e8" stroke="#20e8e8" stroke-width="3"/><path d="M139.3 141 L143 139.8 L147 139.8 L150 140.3 L153 140 L157.7 141 L156 144 L154 147 L152.1 150.6 L151 147.5 L151.5 144.5 L149.5 142.5 L145 141.5 L141 142.3Z" fill="#20e8e8" stroke="#20e8e8" stroke-width="3"/><path d="M156.3 157.5 L160 156.6 L166 156.2 L171 157 L173.3 158.5 L170.6 160.5 L166 161.9 L160 162.5 L156.3 162Z" fill="#20e8e8" stroke="#20e8e8" stroke-width="3"/><path d="M170.6 167.4 L181.2 159.4 L191.9 151.5 L198.4 147 L198.4 145.8 L194.5 144.8 L193.6 146.8 L191 149.2 L187.4 148.2 L186.5 152 L183 155.4 L178.6 154.4 L177.7 157.5 L171.5 164.3Z" fill="#20e8e8" stroke="#20e8e8" stroke-width="3"/><path d="M179.5 174.3 L190.1 172.5 L198.9 170.7 L202.5 168.1 L206 169 L213.1 167.2 L220 164.5 L222 165.5 L214 169.5 L206 172 L201.5 173.6 L201.8 178.7 L198 181.8 L197 177.5 L195.4 175.7 L188.3 175.7 L179.5 175.8Z" fill="#20e8e8" stroke="#20e8e8" stroke-width="3"/><path d="M211.3 156 L218 155.7 L223.5 156 L224.5 158.5 L218 160.5 L211.3 161Z" fill="#20e8e8" stroke="#20e8e8" stroke-width="3"/><path d="M195.4 138 L200 138.5 L202.5 141 L199 143.3 L196 141Z" fill="#20e8e8" stroke="#20e8e8" stroke-width="3"/><path d="M128.6 169.8 L131.8 169.8 L133 180 L133 191 L131.2 200 L130.2 207.8 L128.6 208Z" fill="#20e8e8" stroke="#20e8e8" stroke-width="3"/><path d="M207.8 201 L213 199 L218 198.4 L223 200.5 L218 202.2 L212 203Z" fill="#20e8e8" stroke="#20e8e8" stroke-width="3"/><path d="M204 189.5 L212 190.3 L218 189 L222.5 190 L224.5 193 L220 194 L212 195.2 L206 196.5Z" fill="#20e8e8" stroke="#20e8e8" stroke-width="3"/><path d="M128 207.8 L131.8 207.8 L131.5 213.5 L128 213.5Z" fill="#20e8e8" stroke="#20e8e8" stroke-width="3"/><path d="M184.7 216 L188 213.6 L192 213.6 L191 217 L187 219.2Z" fill="#20e8e8" stroke="#20e8e8" stroke-width="3"/><path d="M173.4 131.7 L176 131.7 L175.5 137 L174 138.3Z" fill="#20e8e8" stroke="#20e8e8" stroke-width="3"/></g>
<path d="M128.6 127.8 L142 127.8 L139 129.6 L135 130.6 L131 129.5Z" fill="#0a0a8c"/>
<path d="M160.6 127.8 L172 127.8 L170.5 131 L168.5 134.5 L165 137.5 L162 138.3 L163.5 134 L162.5 130.5Z" fill="#0a0a8c"/>
<path d="M172 127.8 L181.3 127.8 L176 129.2 L172 129.6Z" fill="#0a0a8c"/>
<path d="M139.3 141 L143 139.8 L147 139.8 L150 140.3 L153 140 L157.7 141 L156 144 L154 147 L152.1 150.6 L151 147.5 L151.5 144.5 L149.5 142.5 L145 141.5 L141 142.3Z" fill="#0a0a8c"/>
<path d="M156.3 157.5 L160 156.6 L166 156.2 L171 157 L173.3 158.5 L170.6 160.5 L166 161.9 L160 162.5 L156.3 162Z" fill="#0a0a8c"/>
<path d="M170.6 167.4 L181.2 159.4 L191.9 151.5 L198.4 147 L198.4 145.8 L194.5 144.8 L193.6 146.8 L191 149.2 L187.4 148.2 L186.5 152 L183 155.4 L178.6 154.4 L177.7 157.5 L171.5 164.3Z" fill="#0a0a8c"/>
<path d="M179.5 174.3 L190.1 172.5 L198.9 170.7 L202.5 168.1 L206 169 L213.1 167.2 L220 164.5 L222 165.5 L214 169.5 L206 172 L201.5 173.6 L201.8 178.7 L198 181.8 L197 177.5 L195.4 175.7 L188.3 175.7 L179.5 175.8Z" fill="#0a0a8c"/>
<path d="M211.3 156 L218 155.7 L223.5 156 L224.5 158.5 L218 160.5 L211.3 161Z" fill="#0a0a8c"/>
<path d="M195.4 138 L200 138.5 L202.5 141 L199 143.3 L196 141Z" fill="#0a0a8c"/>
<path d="M128.6 169.8 L131.8 169.8 L133 180 L133 191 L131.2 200 L130.2 207.8 L128.6 208Z" fill="#0a0a8c"/>
<path d="M207.8 201 L213 199 L218 198.4 L223 200.5 L218 202.2 L212 203Z" fill="#0a0a8c"/>
<path d="M204 189.5 L212 190.3 L218 189 L222.5 190 L224.5 193 L220 194 L212 195.2 L206 196.5Z" fill="#0a0a8c"/>
<path d="M128 207.8 L131.8 207.8 L131.5 213.5 L128 213.5Z" fill="#0a0a8c"/>
<path d="M184.7 216 L188 213.6 L192 213.6 L191 217 L187 219.2Z" fill="#0a0a8c"/>
<path d="M173.4 131.7 L176 131.7 L175.5 137 L174 138.3Z" fill="#0a0a8c"/>
<g filter="url(#bl1)" opacity="0.8"><path d="M170 198.4 Q177 205 178.5 211.6 Q178 216 176.6 218" fill="none" stroke="#20e8e8" stroke-width="4.8" stroke-linecap="round"/><path d="M190 127.5 Q186 133 184 138.2 Q182 142 180.3 145.7 L178.6 154" fill="none" stroke="#20e8e8" stroke-width="5.0" stroke-linecap="round"/><path d="M165.4 128.9 Q163 133 160.7 136.4 Q157 140 154.2 143.9" fill="none" stroke="#20e8e8" stroke-width="5.4" stroke-linecap="round"/><path d="M203 127.5 Q205 129 207 128" fill="none" stroke="#20e8e8" stroke-width="4.5" stroke-linecap="round"/><path d="M133.7 170 Q131.5 176 131.8 181.3 Q131 195 129.9 207.8" fill="none" stroke="#20e8e8" stroke-width="4.6" stroke-linecap="round"/><path d="M150.7 187 Q151.5 197 150.7 205.9 Q148.5 212 146 218.5" fill="none" stroke="#20e8e8" stroke-width="5.4" stroke-linecap="round"/><path d="M150.7 205.9 Q155 199 159.2 194.6" fill="none" stroke="#20e8e8" stroke-width="4.8" stroke-linecap="round"/><path d="M171.5 202.1 Q172.5 210 172.4 218" fill="none" stroke="#20e8e8" stroke-width="4.8" stroke-linecap="round"/><path d="M152.6 206 Q149 210 146.9 213.6 Q142 219 139.3 223 Q135 227 131.8 229.6 L128 231.5" fill="none" stroke="#20e8e8" stroke-width="6.0" stroke-linecap="round"/><path d="M148.8 240 L148.8 234.4" fill="none" stroke="#20e8e8" stroke-width="5.0" stroke-linecap="round"/><path d="M159.2 240 L159.2 224" fill="none" stroke="#20e8e8" stroke-width="5.2" stroke-linecap="round"/><path d="M173.4 240 L173.4 216 M173.4 216 Q176 211 179 208.8 M173.4 216 Q171 213 169.6 212" fill="none" stroke="#20e8e8" stroke-width="5.4" stroke-linecap="round"/><path d="M186.6 241 L186.6 217.3" fill="none" stroke="#20e8e8" stroke-width="5.2" stroke-linecap="round"/><path d="M202.5 242.6 Q203.5 234 202.8 227.7 Q202 224 200 222" fill="none" stroke="#20e8e8" stroke-width="5.0" stroke-linecap="round"/><path d="M213 243 Q212 236 213.5 230" fill="none" stroke="#20e8e8" stroke-width="4.6" stroke-linecap="round"/></g>
<path d="M170 198.4 Q177 205 178.5 211.6 Q178 216 176.6 218" fill="none" stroke="#0a0a8c" stroke-width="1.8" stroke-linecap="round"/>
<path d="M190 127.5 Q186 133 184 138.2 Q182 142 180.3 145.7 L178.6 154" fill="none" stroke="#0a0a8c" stroke-width="2.0" stroke-linecap="round"/>
<path d="M165.4 128.9 Q163 133 160.7 136.4 Q157 140 154.2 143.9" fill="none" stroke="#0a0a8c" stroke-width="2.4" stroke-linecap="round"/>
<path d="M203 127.5 Q205 129 207 128" fill="none" stroke="#0a0a8c" stroke-width="1.5" stroke-linecap="round"/>
<path d="M133.7 170 Q131.5 176 131.8 181.3 Q131 195 129.9 207.8" fill="none" stroke="#0a0a8c" stroke-width="1.6" stroke-linecap="round"/>
<path d="M150.7 187 Q151.5 197 150.7 205.9 Q148.5 212 146 218.5" fill="none" stroke="#0a0a8c" stroke-width="2.4" stroke-linecap="round"/>
<path d="M150.7 205.9 Q155 199 159.2 194.6" fill="none" stroke="#0a0a8c" stroke-width="1.8" stroke-linecap="round"/>
<path d="M171.5 202.1 Q172.5 210 172.4 218" fill="none" stroke="#0a0a8c" stroke-width="1.8" stroke-linecap="round"/>
<path d="M152.6 206 Q149 210 146.9 213.6 Q142 219 139.3 223 Q135 227 131.8 229.6 L128 231.5" fill="none" stroke="#0a0a8c" stroke-width="3.0" stroke-linecap="round"/>
<path d="M148.8 240 L148.8 234.4" fill="none" stroke="#0a0a8c" stroke-width="2.0" stroke-linecap="round"/>
<path d="M159.2 240 L159.2 224" fill="none" stroke="#0a0a8c" stroke-width="2.2" stroke-linecap="round"/>
<path d="M173.4 240 L173.4 216 M173.4 216 Q176 211 179 208.8 M173.4 216 Q171 213 169.6 212" fill="none" stroke="#0a0a8c" stroke-width="2.4" stroke-linecap="round"/>
<path d="M186.6 241 L186.6 217.3" fill="none" stroke="#0a0a8c" stroke-width="2.2" stroke-linecap="round"/>
<path d="M202.5 242.6 Q203.5 234 202.8 227.7 Q202 224 200 222" fill="none" stroke="#0a0a8c" stroke-width="2.0" stroke-linecap="round"/>
<path d="M213 243 Q212 236 213.5 230" fill="none" stroke="#0a0a8c" stroke-width="1.6" stroke-linecap="round"/>
<line x1="128.6" y1="145.9" x2="230.9" y2="233.1" stroke="#0a0a50" stroke-width="1.9" stroke-dasharray="1.7 2.0"/><path d="M235.5 237.0L228.9 234.7L231.5 233.6L232.2 230.9Z" fill="#0a0a50"/>
<line x1="138.9" y1="160.0" x2="138.9" y2="192.1" stroke="#d86a2a" stroke-width="2" stroke-dasharray="1.3 1.25"/><path d="M138.9 198.6L141.2 191.6L138.9 192.8L136.6 191.6Z" fill="#d86a2a"/>
<line x1="165.0" y1="181.2" x2="203.6" y2="145.6" stroke="#1a50f0" stroke-width="1.8" stroke-dasharray="1.7 2.0"/><path d="M208.0 141.5L204.9 147.7L204.1 145.1L201.5 144.1Z" fill="#1a50f0"/>
<line x1="195.0" y1="205.0" x2="217.5" y2="180.4" stroke="#3aa0f0" stroke-width="1.8" stroke-dasharray="1.7 2.0"/><path d="M221.5 176.0L219.0 182.5L217.9 179.9L215.3 179.1Z" fill="#3aa0f0"/>
<line x1="193.2" y1="205.0" x2="193.2" y2="242.4" stroke="#f59a3a" stroke-width="2" stroke-dasharray="1.3 1.25"/><path d="M193.2 248.9L195.5 241.9L193.2 243.1L190.9 241.9Z" fill="#f59a3a"/>
<text x="133.4" y="140.8" font-size="12.3" font-weight="bold" font-style="normal" fill="#000" text-anchor="start" >e</text>
<text x="175" y="138.4" font-size="8.6" font-weight="bold" fill="#d86a2a"><tspan font-style="italic">t</tspan><tspan font-size="6.2" dy="2.2">c</tspan><tspan dy="-2.2" x="183.4" textLength="30.8" lengthAdjust="spacingAndGlyphs">= 170 s</tspan></text>
<text x="200.3" y="158" font-size="8.6" font-weight="bold" font-style="normal" fill="#1a40e0" text-anchor="start" >B1</text>
<text x="220.3" y="171" font-size="8.6" font-weight="bold" font-style="normal" fill="#2a80e8" text-anchor="start" >B2</text>
<text x="133.2" y="210.8" font-size="8.6" font-weight="bold" font-style="normal" fill="#d86a2a" text-anchor="start" >B3</text>
<text x="197.1" y="252.9" font-size="8.6" font-weight="bold" font-style="normal" fill="#f59a3a" text-anchor="start" >B4</text>
<text x="140" y="243.4" font-size="7.6" font-weight="bold" font-style="normal" fill="#fff" text-anchor="start" >5 µm</text>
<rect x="138.9" y="247.4" width="19.0" height="2.799999999999983" fill="#fff"/>
</g>
<g clip-path="url(#cf)">
<rect x="257.6" y="127.8" width="126.39999999999998" height="126.2" fill="#0a14a0"/>
<rect x="257.6" y="127.8" width="126.39999999999998" height="126.2" filter="url(#fbg)" opacity="0.4"/>
<path d="M257 148 L270 152 L287 160 L300 170.5 L312 178.5 L325 190 L337 201 L350 214 L360 228 L366 238 L370.5 248 L364.5 244.5 L350 236 L337 226.7 L327.4 221.1 L320 214.5 L310 208.5 L303.6 205.1 L294.8 217.7 L284.7 230.3 L274.6 239.1 L264.6 244.2 L269.6 237.9 L275 229 L282.2 220.2 L290 211 L297 202.5 L294 197.5 L288.5 191.5 L280 186 L271.8 180.4 L257 169.3Z" fill="#56e27a" stroke="#38d8b8" stroke-width="0.9" stroke-linejoin="round"/>
<path d="M280 163 L288 155 L294.8 149.7 L303.6 143.4 L311.2 139.2 L312.8 138.6 L311.5 144 L309.9 147.2 L306.1 153.4 L297.3 158.5 L289.7 164.8 L286 170Z" fill="#56e27a" stroke="#38d8b8" stroke-width="0.9" stroke-linejoin="round"/>
<path d="M281 176.1 L300 166.2 L321 156 L326 154.5 L332.7 151.2 L345.3 143.6 L360.8 133 L351.4 152.2 L346.3 161 L337.2 164.5 L321 165.2 L300 176.5 L289.7 183.7Z" fill="#56e27a" stroke="#38d8b8" stroke-width="0.9" stroke-linejoin="round"/>
<path d="M322 201 L330 193.5 L345 181 L359.8 170.6 L355 179 L342 190.5 L334 200 L328 207Z" fill="#56e27a" stroke="#38d8b8" stroke-width="0.9" stroke-linejoin="round"/>
<path d="M304 127.8 L318 127.8 L316 130.5 L309 131.5Z" fill="#56e27a" stroke="#38d8b8" stroke-width="0.9" stroke-linejoin="round"/>
<path d="M266 152 Q273 143 282 138.6" fill="none" stroke="#56e27a" stroke-width="3.6" stroke-linecap="round"/>
<g filter="url(#bl3)" opacity="0.85"><path d="M262 156 L300 184 L335 212 L362 240" stroke="#c8ec30" stroke-width="7"/><path d="M290 176 L330 160 L352 146" stroke="#a8ec40" stroke-width="3.5"/><path d="M290 160 L308 146" stroke="#a8ec40" stroke-width="3.5"/><path d="M300 204 L285 222 L272 236" stroke="#a8ec40" stroke-width="3"/><path d="M330 200 L350 182" stroke="#a0ec50" stroke-width="3"/></g>
<line x1="260.5" y1="151.5" x2="363.5" y2="241.1" stroke="#0a0a50" stroke-width="1.9" stroke-dasharray="1.7 2.0"/><path d="M368.0 245.0L361.5 242.6L364.0 241.5L364.7 238.8Z" fill="#0a0a50"/>
<line x1="272.0" y1="163.0" x2="272.0" y2="192.5" stroke="#d86a2a" stroke-width="2" stroke-dasharray="1.3 1.25"/><path d="M272.0 199.0L274.3 192.0L272.0 193.2L269.7 192.0Z" fill="#d86a2a"/>
<line x1="330.5" y1="206.0" x2="330.5" y2="239.5" stroke="#f59a3a" stroke-width="2" stroke-dasharray="1.3 1.25"/><path d="M330.5 246.0L332.8 239.0L330.5 240.2L328.2 239.0Z" fill="#f59a3a"/>
<line x1="304.2" y1="178.6" x2="334.0" y2="156.0" stroke="#1a50f0" stroke-width="1.8" stroke-dasharray="1.7 2.0"/><path d="M338.0 153.0L335.1 158.3L334.6 155.6L332.1 154.3Z" fill="#1a50f0"/>
<line x1="323.0" y1="202.0" x2="346.3" y2="181.3" stroke="#3aa0f0" stroke-width="1.8" stroke-dasharray="1.7 2.0"/><path d="M350.0 178.0L347.6 183.5L346.8 180.9L344.2 179.8Z" fill="#3aa0f0"/>
<rect x="325.2" y="133.3" width="12.600000000000023" height="12.599999999999994" fill="#fff"/>
<text x="326.3" y="143.1" font-size="8.6" font-weight="bold" font-style="normal" fill="#1a40e0" text-anchor="start" >B1</text>
<rect x="360.2" y="159.7" width="13.600000000000023" height="12.600000000000023" fill="#fff"/>
<text x="361.2" y="169.5" font-size="8.6" font-weight="bold" font-style="normal" fill="#2a8ae8" text-anchor="start" >B2</text>
<text x="261.6" y="143.9" font-size="13" font-weight="bold" font-style="normal" fill="#fff" text-anchor="start" >f</text>
<text x="268.3" y="210.8" font-size="8.6" font-weight="bold" font-style="normal" fill="#d86a2a" text-anchor="start" >B3</text>
<text x="330.2" y="252.3" font-size="8.6" font-weight="bold" font-style="normal" fill="#f59a3a" text-anchor="start" >B4</text>
<rect x="261" y="247" width="20" height="3" fill="#fff"/>
<rect x="366.4" y="188.5" width="8.4" height="29.9" fill="#fff"/>
<rect x="367.5" y="189.6" width="6.2" height="27.7" fill="url(#jet)"/>
<text x="358.2" y="185.8" font-size="8.4" font-weight="bold" font-style="normal" fill="#fff" text-anchor="start" >30 nm</text>
<text x="359.8" y="228" font-size="8.4" font-weight="bold" font-style="normal" fill="#fff" text-anchor="start" >0 nm</text>
</g>
<text x="4.6" y="12.6" font-size="12.5" font-weight="bold" font-style="normal" fill="#000" text-anchor="start" >a</text>
<text x="48.4" y="8.8" font-size="8.5" font-weight="bold" fill="#000"><tspan font-style="italic">t</tspan><tspan font-size="6.1" dy="2.2">c</tspan><tspan dy="-2.2" x="56.9" textLength="26.3" lengthAdjust="spacingAndGlyphs">= 70 s</tspan></text><circle cx="87.4" cy="10.1" r="1.1" fill="#111"/>
<rect x="107" y="118.8" width="16" height="3.1000000000000085" fill="#000"/>
<line x1="61.1" y1="61.4" x2="61.1" y2="88.3" stroke="#a0501c" stroke-width="2" stroke-dasharray="1.3 1.25"/><path d="M61.1 94.8L63.4 87.8L61.1 89.0L58.8 87.8Z" fill="#a0501c"/>
<line x1="61.1" y1="61.4" x2="93.2" y2="88.5" stroke="#10109c" stroke-width="1.8" stroke-dasharray="1.7 2.0"/><path d="M97.8 92.4L91.2 90.1L93.8 89.0L94.4 86.3Z" fill="#10109c"/>
<line x1="61.1" y1="61.4" x2="69.8" y2="52.7" stroke="#10109c" stroke-width="1"/>
<line x1="84.8" y1="81.1" x2="95" y2="72.4" stroke="#10109c" stroke-width="1"/>
<line x1="70.5" y1="58.5" x2="89.6" y2="73" stroke="#10109c" stroke-width="2.2"/>
<path d="M66.6 55.5L73.6 57.6L70.6 61.5Z" fill="#10109c"/><path d="M93.3 75.9L86.3 73.9L89.3 70Z" fill="#10109c"/>
<text x="83.4" y="63" font-size="9" font-weight="bold" font-style="italic" fill="#10109c" text-anchor="start" >L</text>
<text x="51.2" y="104.8" font-size="9" font-weight="bold" fill="#a0501c"><tspan textLength="11.8" lengthAdjust="spacingAndGlyphs">MB</tspan><tspan font-size="5.4" dy="1.8">010</tspan></text>
<text x="94.9" y="101.9" font-size="8.6" font-weight="bold" fill="#10109c"><tspan textLength="12.3" lengthAdjust="spacingAndGlyphs">MB</tspan><tspan font-size="5.6" dy="2.0">120</tspan></text>
<text x="134.4" y="15.7" font-size="12.3" font-weight="bold" font-style="normal" fill="#000" text-anchor="start" >b</text>
<text x="174.6" y="8.8" font-size="8.5" font-weight="bold" fill="#000"><tspan font-style="italic">t</tspan><tspan font-size="6.1" dy="2.2">c</tspan><tspan dy="-2.2" x="183.1" textLength="31.6" lengthAdjust="spacingAndGlyphs">= 100 s</tspan></text><circle cx="218.9" cy="10.1" r="1.1" fill="#111"/>
<rect x="235.7" y="119" width="15.900000000000006" height="3.200000000000003" fill="#000"/>
<line x1="189.3" y1="61.0" x2="189.3" y2="94.8" stroke="#a0501c" stroke-width="2" stroke-dasharray="1.3 1.25"/><path d="M189.3 101.3L191.6 94.3L189.3 95.5L187.0 94.3Z" fill="#a0501c"/>
<line x1="208.8" y1="76.9" x2="208.8" y2="94.8" stroke="#c8662a" stroke-width="2" stroke-dasharray="1.3 1.25"/><path d="M208.8 101.3L211.1 94.3L208.8 95.5L206.5 94.3Z" fill="#c8662a"/>
<line x1="189.3" y1="61.0" x2="231.6" y2="96.3" stroke="#10109c" stroke-width="1.8" stroke-dasharray="1.7 2.0"/><path d="M236.2 100.1L229.6 97.9L232.1 96.7L232.8 94.0Z" fill="#10109c"/>
<line x1="220.3" y1="81.8" x2="232.1" y2="72.1" stroke="#1a50f0" stroke-width="1.8" stroke-dasharray="1.7 2.0"/><path d="M236.7 68.3L233.3 74.4L232.6 71.7L230.1 70.5Z" fill="#1a50f0"/>
<text x="237.3" y="67.1" font-size="8.4" font-weight="bold" font-style="normal" fill="#1a50f0" text-anchor="start" >B1</text>
<text x="203" y="109.9" font-size="8.4" font-weight="bold" font-style="normal" fill="#c8662a" text-anchor="start" >B3</text>
<line x1="135.6" y1="119.8" x2="135.6" y2="97" stroke="#000" stroke-width="1.9"/><path d="M135.6 89.6L138.8 99L135.6 97.6L132.4 99Z" fill="#000"/>
<line x1="134.7" y1="119" x2="146" y2="119" stroke="#000" stroke-width="1.9"/><path d="M153.8 119L143.6 122.3L145.2 119L143.6 115.7Z" fill="#000"/>
<text x="139.5" y="96.4" font-size="7" font-weight="bold" font-style="italic" fill="#000" text-anchor="start" >b</text>
<text x="155.8" y="120.9" font-size="7.6" font-weight="bold" font-style="italic" fill="#000" text-anchor="start" >asinβ</text>
<text x="262.6" y="12.6" font-size="12.3" font-weight="bold" font-style="normal" fill="#000" text-anchor="start" >c</text>
<text x="304" y="8.8" font-size="8.5" font-weight="bold" fill="#000"><tspan font-style="italic">t</tspan><tspan font-size="6.1" dy="2.2">c</tspan><tspan dy="-2.2" x="312.5" textLength="31.1" lengthAdjust="spacingAndGlyphs">= 130 s</tspan></text><circle cx="347.8" cy="10.1" r="1.1" fill="#111"/>
<rect x="261" y="119" width="16" height="3.4000000000000057" fill="#000"/>
<line x1="318.3" y1="61.2" x2="318.3" y2="106.9" stroke="#a0501c" stroke-width="2" stroke-dasharray="1.3 1.25"/><path d="M318.3 113.4L320.6 106.4L318.3 107.6L316.0 106.4Z" fill="#a0501c"/>
<line x1="337.1" y1="78.0" x2="337.1" y2="106.9" stroke="#c8662a" stroke-width="2" stroke-dasharray="1.3 1.25"/><path d="M337.1 113.4L339.4 106.4L337.1 107.6L334.8 106.4Z" fill="#c8662a"/>
<line x1="357.8" y1="94.2" x2="357.8" y2="106.9" stroke="#f59a3a" stroke-width="2" stroke-dasharray="1.3 1.25"/><path d="M357.8 113.4L360.1 106.4L357.8 107.6L355.5 106.4Z" fill="#f59a3a"/>
<line x1="318.3" y1="61.2" x2="374.7" y2="107.6" stroke="#10109c" stroke-width="1.8" stroke-dasharray="1.7 2.0"/><path d="M379.3 111.4L372.7 109.2L375.2 108.0L375.9 105.3Z" fill="#10109c"/>
<line x1="348.3" y1="85.4" x2="363.3" y2="70.4" stroke="#1a50f0" stroke-width="1.8" stroke-dasharray="1.7 2.0"/><path d="M367.5 66.2L364.7 72.6L363.8 69.9L361.1 69.0Z" fill="#1a50f0"/>
<line x1="358.7" y1="91.3" x2="364.0" y2="86.0" stroke="#3aa0f0" stroke-width="1.8" stroke-dasharray="1.7 2.0"/><path d="M367.5 82.4L365.3 87.9L364.5 85.5L362.0 84.7Z" fill="#3aa0f0"/>
<text x="370.3" y="66.5" font-size="8.4" font-weight="bold" font-style="normal" fill="#1a50f0" text-anchor="start" >B1</text>
<text x="370.3" y="79.5" font-size="8.4" font-weight="bold" font-style="normal" fill="#3aa0f0" text-anchor="start" >B2</text>
<text x="331.9" y="122.3" font-size="8.4" font-weight="bold" font-style="normal" fill="#c8662a" text-anchor="start" >B3</text>
<text x="352.6" y="122.3" font-size="8.4" font-weight="bold" font-style="normal" fill="#f59a3a" text-anchor="start" >B4</text>
<text x="4.6" y="142.4" font-size="12.5" font-weight="bold" font-style="normal" fill="#000" text-anchor="start" >d</text>
<text x="45.8" y="137.4" font-size="8.5" font-weight="bold" fill="#000"><tspan font-style="italic">t</tspan><tspan font-size="6.1" dy="2.2">c</tspan><tspan dy="-2.2" x="54.4" textLength="31.1" lengthAdjust="spacingAndGlyphs">= 160 s</tspan></text><circle cx="89.7" cy="138.7" r="1.1" fill="#111"/>
<text x="5" y="245" font-size="7.8" font-weight="bold" font-style="normal" fill="#000" text-anchor="start" >10 µm</text>
<rect x="8" y="247.6" width="16" height="2.700000000000017" fill="#000"/>
<line x1="60.6" y1="189.0" x2="60.6" y2="235.5" stroke="#a0501c" stroke-width="2" stroke-dasharray="1.3 1.25"/><path d="M60.6 242.0L62.9 235.0L60.6 236.2L58.3 235.0Z" fill="#a0501c"/>
<line x1="79.3" y1="206.0" x2="79.3" y2="235.5" stroke="#c8662a" stroke-width="2" stroke-dasharray="1.3 1.25"/><path d="M79.3 242.0L81.6 235.0L79.3 236.2L77.0 235.0Z" fill="#c8662a"/>
<line x1="101.1" y1="223.3" x2="101.1" y2="235.5" stroke="#f59a3a" stroke-width="2" stroke-dasharray="1.3 1.25"/><path d="M101.1 242.0L103.4 235.0L101.1 236.2L98.8 235.0Z" fill="#f59a3a"/>
<line x1="60.6" y1="189.0" x2="118.4" y2="239.0" stroke="#10109c" stroke-width="1.8" stroke-dasharray="1.7 2.0"/><path d="M122.9 242.9L116.3 240.5L118.9 239.4L119.6 236.8Z" fill="#10109c"/>
<line x1="89.3" y1="218.6" x2="113.3" y2="192.0" stroke="#1a50f0" stroke-width="1.8" stroke-dasharray="1.7 2.0"/><path d="M117.3 187.5L114.8 194.0L113.8 191.4L111.1 190.7Z" fill="#1a50f0"/>
<line x1="101.7" y1="221.7" x2="114.8" y2="207.4" stroke="#3aa0f0" stroke-width="1.8" stroke-dasharray="1.7 2.0"/><path d="M118.9 203.0L116.3 209.5L115.3 206.9L112.7 206.1Z" fill="#3aa0f0"/>
<text x="114" y="185" font-size="8.4" font-weight="bold" font-style="normal" fill="#1a50f0" text-anchor="start" >B1</text>
<text x="114" y="218.6" font-size="8.4" font-weight="bold" font-style="normal" fill="#3aa0f0" text-anchor="start" >B2</text>
<text x="73.5" y="252.3" font-size="8.4" font-weight="bold" font-style="normal" fill="#c8662a" text-anchor="start" >B3</text>
<text x="95.3" y="252.3" font-size="8.4" font-weight="bold" font-style="normal" fill="#f59a3a" text-anchor="start" >B4</text>
<rect x="425.3" y="11.2" width="258.6" height="210.6" fill="none" stroke="#000" stroke-width="1.6"/>
<line x1="425.3" x2="429.6" y1="202.60" y2="202.60" stroke="#000" stroke-width="1.3"/>
<text x="421.2" y="205.80" text-anchor="end" font-size="9" font-weight="bold">0</text>
<line x1="425.3" x2="429.6" y1="164.35" y2="164.35" stroke="#000" stroke-width="1.3"/>
<text x="421.2" y="167.55" text-anchor="end" font-size="9" font-weight="bold">5</text>
<line x1="425.3" x2="429.6" y1="126.10" y2="126.10" stroke="#000" stroke-width="1.3"/>
<text x="421.2" y="129.30" text-anchor="end" font-size="9" font-weight="bold">10</text>
<line x1="425.3" x2="429.6" y1="87.85" y2="87.85" stroke="#000" stroke-width="1.3"/>
<text x="421.2" y="91.05" text-anchor="end" font-size="9" font-weight="bold">15</text>
<line x1="425.3" x2="429.6" y1="49.60" y2="49.60" stroke="#000" stroke-width="1.3"/>
<text x="421.2" y="52.80" text-anchor="end" font-size="9" font-weight="bold">20</text>
<line x1="425.3" x2="429.6" y1="11.35" y2="11.35" stroke="#000" stroke-width="1.3"/>
<text x="421.2" y="14.55" text-anchor="end" font-size="9" font-weight="bold">25</text>
<line x1="425.3" x2="428" y1="183.47" y2="183.47" stroke="#000" stroke-width="1.3"/>
<line x1="425.3" x2="428" y1="145.22" y2="145.22" stroke="#000" stroke-width="1.3"/>
<line x1="425.3" x2="428" y1="106.97" y2="106.97" stroke="#000" stroke-width="1.3"/>
<line x1="425.3" x2="428" y1="68.72" y2="68.72" stroke="#000" stroke-width="1.3"/>
<line x1="425.3" x2="428" y1="30.47" y2="30.47" stroke="#000" stroke-width="1.3"/>
<line x1="439.70" x2="439.70" y1="221.8" y2="217.6" stroke="#000" stroke-width="1.3"/>
<text x="439.70" y="233.6" text-anchor="middle" font-size="9" font-weight="bold">0</text>
<line x1="497.25" x2="497.25" y1="221.8" y2="217.6" stroke="#000" stroke-width="1.3"/>
<text x="497.25" y="233.6" text-anchor="middle" font-size="9" font-weight="bold">20</text>
<line x1="554.80" x2="554.80" y1="221.8" y2="217.6" stroke="#000" stroke-width="1.3"/>
<text x="554.80" y="233.6" text-anchor="middle" font-size="9" font-weight="bold">40</text>
<line x1="612.35" x2="612.35" y1="221.8" y2="217.6" stroke="#000" stroke-width="1.3"/>
<text x="612.35" y="233.6" text-anchor="middle" font-size="9" font-weight="bold">60</text>
<line x1="669.90" x2="669.90" y1="221.8" y2="217.6" stroke="#000" stroke-width="1.3"/>
<text x="669.90" y="233.6" text-anchor="middle" font-size="9" font-weight="bold">80</text>
<line x1="468.47" x2="468.47" y1="221.8" y2="219.2" stroke="#000" stroke-width="1.3"/>
<line x1="526.02" x2="526.02" y1="221.8" y2="219.2" stroke="#000" stroke-width="1.3"/>
<line x1="583.58" x2="583.58" y1="221.8" y2="219.2" stroke="#000" stroke-width="1.3"/>
<line x1="641.12" x2="641.12" y1="221.8" y2="219.2" stroke="#000" stroke-width="1.3"/>
<rect x="435.15" y="198.10" width="9.1" height="9" rx="0.6" fill="#00007f"/>
<rect x="449.54" y="184.71" width="9.1" height="9" rx="0.6" fill="#00007f"/>
<rect x="463.92" y="172.85" width="9.1" height="9" rx="0.6" fill="#00007f"/>
<rect x="478.31" y="161.38" width="9.1" height="9" rx="0.6" fill="#00007f"/>
<rect x="492.70" y="150.29" width="9.1" height="9" rx="0.6" fill="#00007f"/>
<rect x="507.09" y="138.81" width="9.1" height="9" rx="0.6" fill="#00007f"/>
<rect x="521.48" y="127.34" width="9.1" height="9" rx="0.6" fill="#00007f"/>
<rect x="535.86" y="115.86" width="9.1" height="9" rx="0.6" fill="#00007f"/>
<rect x="550.25" y="105.15" width="9.1" height="9" rx="0.6" fill="#00007f"/>
<rect x="564.64" y="95.21" width="9.1" height="9" rx="0.6" fill="#00007f"/>
<rect x="579.03" y="84.11" width="9.1" height="9" rx="0.6" fill="#00007f"/>
<rect x="593.41" y="74.17" width="9.1" height="9" rx="0.6" fill="#00007f"/>
<rect x="607.80" y="61.93" width="9.1" height="9" rx="0.6" fill="#00007f"/>
<rect x="622.19" y="51.60" width="9.1" height="9" rx="0.6" fill="#00007f"/>
<rect x="636.58" y="37.83" width="9.1" height="9" rx="0.6" fill="#00007f"/>
<rect x="650.96" y="29.03" width="9.1" height="9" rx="0.6" fill="#00007f"/>
<rect x="665.35" y="20.62" width="9.1" height="9" rx="0.6" fill="#00007f"/>
<circle cx="439.70" cy="202.60" r="3.5" fill="#fff" stroke="#0000ff" stroke-width="2.1"/>
<circle cx="454.09" cy="192.66" r="3.5" fill="#fff" stroke="#0000ff" stroke-width="2.1"/>
<circle cx="468.47" cy="181.18" r="3.5" fill="#fff" stroke="#0000ff" stroke-width="2.1"/>
<circle cx="482.86" cy="171.23" r="3.5" fill="#fff" stroke="#0000ff" stroke-width="2.1"/>
<circle cx="497.25" cy="161.29" r="3.5" fill="#fff" stroke="#0000ff" stroke-width="2.1"/>
<circle cx="511.64" cy="150.58" r="3.5" fill="#fff" stroke="#0000ff" stroke-width="2.1"/>
<circle cx="526.02" cy="141.40" r="3.5" fill="#fff" stroke="#0000ff" stroke-width="2.1"/>
<circle cx="540.41" cy="131.45" r="3.5" fill="#fff" stroke="#0000ff" stroke-width="2.1"/>
<circle cx="554.80" cy="121.51" r="3.5" fill="#fff" stroke="#0000ff" stroke-width="2.1"/>
<circle cx="569.19" cy="110.80" r="3.5" fill="#fff" stroke="#0000ff" stroke-width="2.1"/>
<circle cx="583.58" cy="100.85" r="3.5" fill="#fff" stroke="#0000ff" stroke-width="2.1"/>
<circle cx="597.96" cy="90.53" r="3.5" fill="#fff" stroke="#0000ff" stroke-width="2.1"/>
<circle cx="612.35" cy="78.67" r="3.5" fill="#fff" stroke="#0000ff" stroke-width="2.1"/>
<path d="M439.70 198.20L444.10 202.60L439.70 207.00L435.30 202.60Z" fill="#fff" stroke="#1e8cff" stroke-width="2.0"/>
<path d="M454.09 189.78L458.49 194.19L454.09 198.59L449.69 194.19Z" fill="#fff" stroke="#1e8cff" stroke-width="2.0"/>
<path d="M468.47 178.69L472.87 183.09L468.47 187.49L464.07 183.09Z" fill="#fff" stroke="#1e8cff" stroke-width="2.0"/>
<path d="M482.86 167.98L487.26 172.38L482.86 176.78L478.46 172.38Z" fill="#fff" stroke="#1e8cff" stroke-width="2.0"/>
<path d="M497.25 158.80L501.65 163.20L497.25 167.60L492.85 163.20Z" fill="#fff" stroke="#1e8cff" stroke-width="2.0"/>
<path d="M511.64 148.47L516.04 152.88L511.64 157.28L507.24 152.88Z" fill="#fff" stroke="#1e8cff" stroke-width="2.0"/>
<path d="M526.02 139.29L530.42 143.69L526.02 148.09L521.62 143.69Z" fill="#fff" stroke="#1e8cff" stroke-width="2.0"/>
<path d="M540.41 128.59L544.81 132.99L540.41 137.39L536.01 132.99Z" fill="#fff" stroke="#1e8cff" stroke-width="2.0"/>
<path d="M554.80 119.02L559.20 123.42L554.80 127.82L550.40 123.42Z" fill="#fff" stroke="#1e8cff" stroke-width="2.0"/>
<path d="M569.19 108.31L573.59 112.71L569.19 117.11L564.79 112.71Z" fill="#fff" stroke="#1e8cff" stroke-width="2.0"/>
<path d="M439.70 197.80L445.50 207.10L433.90 207.10Z" fill="#82400e"/>
<path d="M454.09 190.53L459.89 199.83L448.29 199.83Z" fill="#82400e"/>
<path d="M468.47 182.50L474.27 191.80L462.67 191.80Z" fill="#82400e"/>
<path d="M482.86 175.61L488.66 184.91L477.06 184.91Z" fill="#82400e"/>
<path d="M497.25 168.73L503.05 178.03L491.45 178.03Z" fill="#82400e"/>
<path d="M511.64 162.61L517.44 171.91L505.84 171.91Z" fill="#82400e"/>
<path d="M526.02 157.25L531.82 166.56L520.23 166.56Z" fill="#82400e"/>
<path d="M540.41 150.37L546.21 159.67L534.61 159.67Z" fill="#82400e"/>
<path d="M554.80 143.87L560.60 153.17L549.00 153.17Z" fill="#82400e"/>
<path d="M569.19 138.51L574.99 147.81L563.39 147.81Z" fill="#82400e"/>
<path d="M583.58 133.16L589.38 142.46L577.78 142.46Z" fill="#82400e"/>
<path d="M597.96 128.49L603.76 137.79L592.16 137.79Z" fill="#82400e"/>
<path d="M612.35 122.98L618.15 132.28L606.55 132.28Z" fill="#82400e"/>
<path d="M626.74 119.00L632.54 128.30L620.94 128.30Z" fill="#82400e"/>
<path d="M641.12 113.65L646.92 122.95L635.33 122.95Z" fill="#82400e"/>
<path d="M655.51 109.82L661.31 119.12L649.71 119.12Z" fill="#82400e"/>
<path d="M669.90 106.00L675.70 115.30L664.10 115.30Z" fill="#82400e"/>
<path d="M435.10 199.20L444.30 199.20L439.70 205.60Z" fill="#fff" stroke="#c0581c" stroke-width="2.0"/>
<path d="M449.49 194.61L458.69 194.61L454.09 201.01Z" fill="#fff" stroke="#c0581c" stroke-width="2.0"/>
<path d="M463.87 187.72L473.07 187.72L468.47 194.12Z" fill="#fff" stroke="#c0581c" stroke-width="2.0"/>
<path d="M478.26 183.13L487.46 183.13L482.86 189.53Z" fill="#fff" stroke="#c0581c" stroke-width="2.0"/>
<path d="M492.65 177.78L501.85 177.78L497.25 184.18Z" fill="#fff" stroke="#c0581c" stroke-width="2.0"/>
<path d="M507.04 171.66L516.24 171.66L511.64 178.06Z" fill="#fff" stroke="#c0581c" stroke-width="2.0"/>
<path d="M521.42 166.30L530.62 166.30L526.02 172.70Z" fill="#fff" stroke="#c0581c" stroke-width="2.0"/>
<path d="M535.81 160.95L545.01 160.95L540.41 167.35Z" fill="#fff" stroke="#c0581c" stroke-width="2.0"/>
<path d="M550.20 155.59L559.40 155.59L554.80 162.00Z" fill="#fff" stroke="#c0581c" stroke-width="2.0"/>
<path d="M564.59 152.53L573.79 152.53L569.19 158.94Z" fill="#fff" stroke="#c0581c" stroke-width="2.0"/>
<path d="M578.98 146.41L588.18 146.41L583.58 152.81Z" fill="#fff" stroke="#c0581c" stroke-width="2.0"/>
<path d="M593.36 141.82L602.56 141.82L597.96 148.22Z" fill="#fff" stroke="#c0581c" stroke-width="2.0"/>
<path d="M435.80 198.10L443.50 202.60L435.80 207.10Z" fill="#fff" stroke="#ff8c1e" stroke-width="2.1"/>
<path d="M450.19 193.13L457.89 197.63L450.19 202.13Z" fill="#fff" stroke="#ff8c1e" stroke-width="2.1"/>
<path d="M464.57 184.33L472.27 188.83L464.57 193.33Z" fill="#fff" stroke="#ff8c1e" stroke-width="2.1"/>
<path d="M478.96 178.21L486.66 182.71L478.96 187.21Z" fill="#fff" stroke="#ff8c1e" stroke-width="2.1"/>
<path d="M493.35 173.62L501.05 178.12L493.35 182.62Z" fill="#fff" stroke="#ff8c1e" stroke-width="2.1"/>
<path d="M507.74 166.73L515.44 171.23L507.74 175.73Z" fill="#fff" stroke="#ff8c1e" stroke-width="2.1"/>
<path d="M522.12 162.14L529.82 166.64L522.12 171.14Z" fill="#fff" stroke="#ff8c1e" stroke-width="2.1"/>
<path d="M536.51 158.32L544.21 162.82L536.51 167.32Z" fill="#fff" stroke="#ff8c1e" stroke-width="2.1"/>
<path d="M550.90 151.44L558.60 155.94L550.90 160.44Z" fill="#fff" stroke="#ff8c1e" stroke-width="2.1"/>
<path d="M565.29 147.99L572.99 152.49L565.29 156.99Z" fill="#fff" stroke="#ff8c1e" stroke-width="2.1"/>
<rect x="444.95" y="21.00" width="9.1" height="9" rx="0.6" fill="#00007f"/>
<circle cx="449.50" cy="36.80" r="3.5" fill="#fff" stroke="#0000ff" stroke-width="2.1"/>
<path d="M449.50 43.10L453.90 47.50L449.50 51.90L445.10 47.50Z" fill="#fff" stroke="#1e8cff" stroke-width="2.0"/>
<path d="M449.50 51.80L455.30 61.10L443.70 61.10Z" fill="#82400e"/>
<path d="M444.90 66.00L454.10 66.00L449.50 72.40Z" fill="#fff" stroke="#c0581c" stroke-width="2.0"/>
<path d="M446.40 74.70L454.10 79.20L446.40 83.70Z" fill="#fff" stroke="#ff8c1e" stroke-width="2.1"/>
<text x="461" y="28.50" font-size="8.4" font-weight="bold" fill="#00007f" textLength="12.4">MB</text><text x="474" y="30.10" font-size="4.6" font-weight="bold" fill="#00007f">120</text>
<text x="461" y="39.80" font-size="8.4" font-weight="bold" fill="#0000ff" textLength="10.4">B1</text>
<text x="461" y="50.50" font-size="8.4" font-weight="bold" fill="#1e8cff" textLength="10.4">B2</text>
<text x="461" y="59.60" font-size="8.4" font-weight="bold" fill="#82400e" textLength="12.4">MB</text><text x="474" y="61.20" font-size="4.6" font-weight="bold" fill="#82400e">010</text>
<text x="461" y="72.40" font-size="8.4" font-weight="bold" fill="#c0581c" textLength="10.4">B3</text>
<text x="461" y="82.20" font-size="8.4" font-weight="bold" fill="#ff8c1e" textLength="10.4">B4</text>
<text x="578.2" y="32" font-size="9.3" font-weight="bold" fill="#00007f">~ 0.28 µm/min</text>
<text x="564.3" y="78.9" font-size="10" font-weight="bold" font-style="italic" fill="#00007f" textLength="19.7" lengthAdjust="spacingAndGlyphs">L ~ t</text>
<text x="591.9" y="162.7" font-size="10" font-weight="bold" font-style="italic" fill="#82400e" textLength="19.7" lengthAdjust="spacingAndGlyphs">L ~ t</text>
<text x="613.1" y="159.9" font-size="6.2" font-weight="bold" fill="#82400e" textLength="28.8" lengthAdjust="spacingAndGlyphs">0.88±0.04</text>
<text x="471.4" y="205.5" font-size="9.3" font-weight="bold" fill="#82400e">~ 0.16 µm/min</text>
<text x="538.7" y="249" font-size="10" font-weight="bold"><tspan font-style="italic">t</tspan><tspan font-size="6" dy="1.8">c</tspan><tspan dy="-1.8">-</tspan><tspan font-style="italic">t</tspan><tspan font-size="6" dy="1.8">0</tspan><tspan dy="-1.8"> [s]</tspan></text>
<text transform="translate(401.6,136.3) rotate(-90)" font-size="9.6" font-weight="bold"><tspan font-style="italic">L</tspan><tspan font-size="6" dy="1.8">c</tspan><tspan dy="-1.8">-</tspan><tspan font-style="italic">L</tspan><tspan font-size="6" dy="1.8">0</tspan><tspan dy="-1.8"> [µm]</tspan></text>
<text x="392.8" y="16.3" font-size="12.5" font-weight="bold">g</text>
</svg></body></html>
